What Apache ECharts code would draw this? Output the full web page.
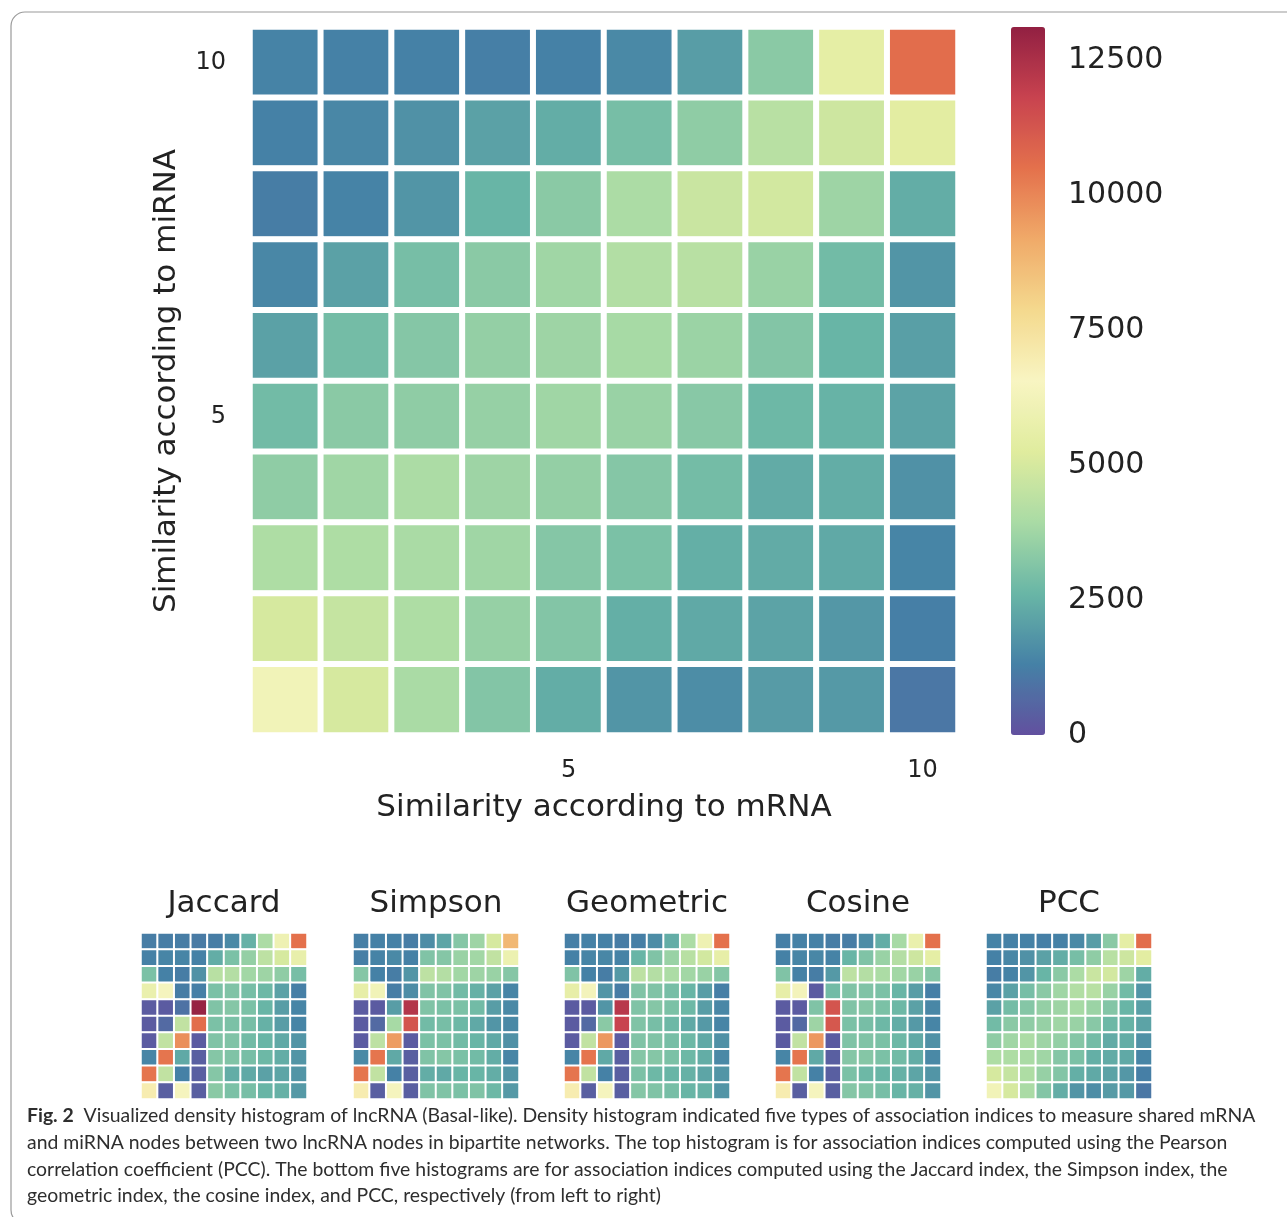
<!DOCTYPE html>
<html>
<head>
<meta charset="utf-8">
<script src="https://cdn.jsdelivr.net/npm/echarts@6/dist/echarts.min.js"></script>
<style>
  html, body { margin: 0; padding: 0; background: #fff; }
  #chart { width: 1287px; height: 1217px; }
</style>
</head>
<body>
<div id="chart"></div>
<script>
// Similarity bins (1..10) shared by both axes
const bins = ['1', '2', '3', '4', '5', '6', '7', '8', '9', '10'];
const shownTicks = ['5', '10'];

// Density counts; each array lists rows from bin 10 (top) down to bin 1 (bottom)
const pcc = [
  [1350, 1300, 1300, 1250, 1300, 1500, 2000, 3300, 5500, 10600],
  [1300, 1450, 1700, 2100, 2400, 2900, 3400, 4300, 4800, 5400],
  [1200, 1350, 1800, 2600, 3300, 4000, 4700, 4900, 3700, 2400],
  [1450, 2100, 2900, 3300, 3750, 4150, 4300, 3600, 2800, 1800],
  [2100, 2850, 3200, 3500, 3700, 3900, 3650, 3150, 2600, 2050],
  [2800, 3300, 3400, 3550, 3750, 3600, 3250, 2700, 2550, 2150],
  [3400, 3750, 4000, 3700, 3500, 3200, 2850, 2350, 2400, 1700],
  [4050, 4050, 3950, 3750, 3200, 3000, 2450, 2350, 2300, 1400],
  [5000, 4600, 4050, 3550, 3150, 2450, 2300, 2150, 1850, 1250],
  [6200, 5000, 3950, 3150, 2400, 1800, 1600, 1950, 1900, 1050]
];

const jaccard = [
  [1200, 1200, 1200, 1150, 1200, 1500, 2500, 4000, 6000, 10500],
  [1300, 1400, 1400, 1300, 2400, 3000, 3500, 4400, 5000, 5700],
  [3000, 1300, 1200, 1700, 4300, 4200, 3800, 3700, 3400, 2900],
  [5800, 6400, 1200, 1250, 3000, 3100, 2900, 2700, 2100, 1250],
  [300, 300, 900, 13000, 3100, 3200, 3000, 2600, 2000, 1400],
  [300, 700, 4500, 10600, 3000, 3000, 2900, 2500, 2000, 1400],
  [300, 4500, 9800, 300, 3100, 3100, 2800, 2600, 2300, 1800],
  [1400, 10400, 2300, 400, 3200, 3100, 2900, 2700, 2400, 1800],
  [10400, 4500, 1300, 400, 3200, 2400, 2300, 2100, 2200, 1800],
  [7000, 400, 6400, 400, 3300, 3000, 2900, 2600, 2500, 1900]
];

const simpson = [
  [1250, 1300, 1300, 1200, 1600, 2200, 3200, 3700, 5000, 8800],
  [1250, 1350, 1500, 1300, 3100, 3200, 3600, 3800, 4500, 5900],
  [3200, 1300, 1200, 1800, 4400, 4200, 3800, 3700, 3600, 3200],
  [5600, 6200, 1200, 1600, 3100, 3100, 2800, 2500, 2100, 1400],
  [300, 300, 2000, 12300, 3100, 3000, 3000, 2800, 2000, 1500],
  [300, 700, 3900, 11300, 2800, 2900, 2700, 2300, 1800, 1500],
  [300, 4400, 9500, 300, 3000, 3000, 2800, 2600, 2300, 1700],
  [1500, 10400, 2300, 400, 3100, 3200, 3000, 2800, 2400, 1400],
  [10400, 4500, 1300, 400, 2400, 2300, 2600, 2600, 2400, 1800],
  [7000, 400, 6400, 400, 3100, 3100, 3000, 3100, 2700, 1900]
];

const geometric = [
  [1250, 1300, 1300, 1200, 1250, 1600, 2400, 4000, 6000, 10500],
  [1300, 1400, 1450, 1350, 2600, 3100, 3600, 4300, 4900, 5600],
  [3100, 1300, 1200, 1900, 4400, 4200, 4000, 3800, 3600, 3200],
  [5600, 6300, 1800, 1200, 3100, 3100, 2900, 2600, 2000, 1250],
  [300, 300, 1800, 12200, 3100, 3200, 3000, 2700, 2000, 1450],
  [300, 700, 3300, 11800, 3100, 2900, 2700, 2300, 1900, 1400],
  [300, 4500, 9600, 300, 3100, 3100, 2900, 2700, 2300, 1700],
  [1400, 10400, 2300, 400, 3200, 3200, 3000, 2700, 2400, 1500],
  [10400, 4500, 1300, 400, 3000, 2700, 2600, 2500, 2200, 1800],
  [7000, 400, 6400, 400, 3200, 3100, 2900, 2600, 2500, 1800]
];

const cosine = [
  [1250, 1300, 1300, 1200, 1200, 1600, 2400, 3900, 5800, 10500],
  [1300, 1400, 1450, 1350, 2600, 3100, 3600, 4200, 4800, 5500],
  [3100, 1300, 1200, 1900, 4400, 4200, 4000, 3800, 3600, 3200],
  [5600, 6300, 300, 2800, 3100, 3100, 3000, 2600, 2000, 1250],
  [300, 300, 3100, 11300, 3100, 3200, 3000, 2700, 2100, 1450],
  [300, 700, 3700, 11200, 3000, 2900, 2700, 2400, 1900, 1400],
  [300, 4500, 9600, 300, 3100, 3100, 3000, 2700, 2300, 1700],
  [1400, 10400, 2300, 400, 3200, 3200, 3000, 2800, 2400, 1500],
  [10400, 4500, 1300, 400, 3000, 2700, 2600, 2500, 2200, 1800],
  [7000, 400, 6400, 400, 3200, 3100, 2900, 2600, 2500, 1800]
];

const panelNames = ['Jaccard', 'Simpson', 'Geometric', 'Cosine', 'PCC'];
const panelData = [jaccard, simpson, geometric, cosine, pcc];

const colorMax = 13111;
const colorStep = 2500;
// Reversed "Spectral" palette (slightly muted)
const palette = ['#62509f', '#4581a6', '#69b6a6', '#a9dba5', '#e0ec9e', '#f8f5c2',
                 '#f4d98e', '#f0aa69', '#e4714c', '#c8434f', '#922042'];

const caption = [
  '{b|Fig. 2}  Visualized density histogram of lncRNA (Basal-like). Density histogram indicated five types of association indices to measure shared mRNA',
  'and miRNA nodes between two lncRNA nodes in bipartite networks. The top histogram is for association indices computed using the Pearson',
  'correlation coefficient (PCC). The bottom five histograms are for association indices computed using the Jaccard index, the Simpson index, the',
  'geometric index, the cosine index, and PCC, respectively (from left to right)'
];

function toCells(rows) {
  const out = [];
  rows.forEach((row, r) => {
    row.forEach((v, c) => out.push([c, bins.length - 1 - r, v]));
  });
  return out;
}

const FONT = 'DejaVu Sans';
const grids = [], xAxes = [], yAxes = [], series = [], graphics = [];

// main panel
grids.push({ left: 250, top: 27, width: 708, height: 708 });
xAxes.push({
  type: 'category', data: bins, gridIndex: 0,
  axisLine: { show: false }, axisTick: { show: false }, splitLine: { show: false },
  axisLabel: { interval: (i, v) => shownTicks.includes(v), margin: 24, fontSize: 24, color: '#222', fontFamily: FONT },
  name: 'Similarity according to mRNA', nameLocation: 'middle', nameGap: 57,
  nameTextStyle: { fontSize: 31, color: '#222', fontFamily: FONT }
});
yAxes.push({
  type: 'category', data: bins, gridIndex: 0,
  axisLine: { show: false }, axisTick: { show: false }, splitLine: { show: false },
  axisLabel: { interval: (i, v) => shownTicks.includes(v), margin: 24, fontSize: 24, color: '#222', fontFamily: FONT },
  name: 'Similarity according to miRNA', nameLocation: 'middle', nameGap: 68,
  nameTextStyle: { fontSize: 31, color: '#222', fontFamily: FONT }
});
series.push({
  type: 'heatmap', xAxisIndex: 0, yAxisIndex: 0, data: toCells(pcc),
  itemStyle: { borderColor: '#fff', borderWidth: 6 }, emphasis: { disabled: true }
});

// five small panels
const smallLefts = [141, 353, 564, 775, 986];
panelNames.forEach((name, k) => {
  const gi = k + 1;
  grids.push({ left: smallLefts[k], top: 933, width: 166, height: 166 });
  xAxes.push({ type: 'category', data: bins, gridIndex: gi, show: false });
  yAxes.push({ type: 'category', data: bins, gridIndex: gi, show: false });
  series.push({
    type: 'heatmap', xAxisIndex: gi, yAxisIndex: gi, data: toCells(panelData[k]),
    itemStyle: { borderColor: '#fff', borderWidth: 2 }, emphasis: { disabled: true }
  });
  graphics.push({
    type: 'text', x: smallLefts[k] + 83, y: 904,
    style: { text: name, fontSize: 31, fontFamily: FONT, fill: '#222', align: 'center', verticalAlign: 'middle' }
  });
});

// colour bar scale
grids.push({ left: 1011, top: 27, width: 34, height: 708 });
xAxes.push({ type: 'value', gridIndex: 6, show: false });
yAxes.push({
  type: 'value', gridIndex: 6, position: 'right', min: 0, max: colorMax, interval: colorStep,
  axisLine: { show: false }, axisTick: { show: false }, splitLine: { show: false },
  axisLabel: { showMaxLabel: false, margin: 23, fontSize: 30, color: '#222', fontFamily: FONT,
               formatter: v => String(v) }
});

// caption
caption.forEach((line, i) => {
  graphics.push({
    type: 'text', x: 27, y: 1116 + i * 26.7,
    style: {
      text: line, fontSize: 19.4, fontFamily: 'Lato', fill: '#2e2e2e', verticalAlign: 'middle',
      rich: { b: { fontSize: 19.4, fontFamily: 'Lato', fontWeight: 'bold', fill: '#2e2e2e' } }
    }
  });
});

// frame
graphics.push({
  type: 'rect', shape: { x: 11, y: 12, width: 1300, height: 1212, r: 14 },
  style: { fill: 'none', stroke: '#9a9a9a', lineWidth: 1.2 }, z: -1
});

const chart = echarts.init(document.getElementById('chart'), null, { renderer: 'canvas' });
chart.setOption({
  backgroundColor: '#fff',
  animation: false,
  grid: grids,
  xAxis: xAxes,
  yAxis: yAxes,
  visualMap: {
    type: 'continuous', min: 0, max: colorMax, calculable: false,
    seriesIndex: [0, 1, 2, 3, 4, 5],
    orient: 'vertical', left: 1011, top: 27, itemWidth: 34, itemHeight: 708, padding: 0,
    inRange: { color: palette }
  },
  series: series,
  graphic: graphics
});
</script>
</body>
</html>
